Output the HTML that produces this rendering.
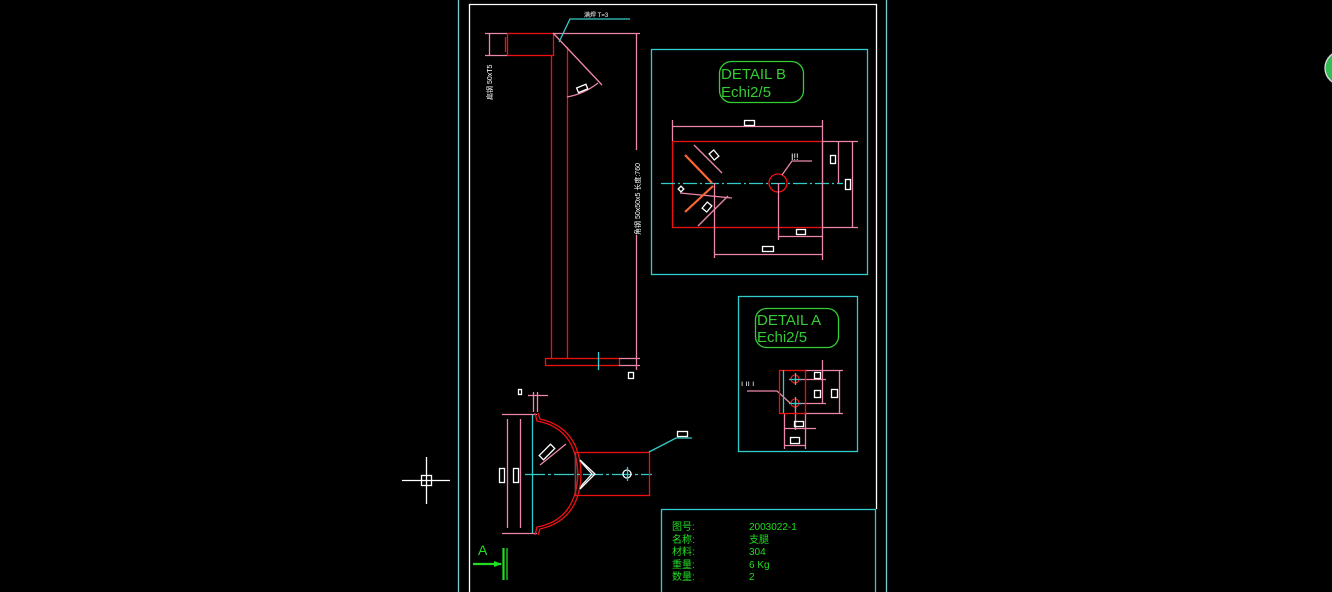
<!DOCTYPE html>
<html><head><meta charset="utf-8"><style>
html,body{margin:0;padding:0;background:#000;width:1332px;height:592px;overflow:hidden}
svg{display:block}
svg line,svg rect,svg polyline,svg path,svg circle,svg polygon{stroke-width:1.3}
svg .w2{stroke-width:2.2}
svg .bg{stroke-width:0}
text{font-family:"Liberation Sans","Noto Sans CJK SC",sans-serif;stroke:none}
</style></head><body>
<svg width="1332" height="592" viewBox="0 0 1332 592" xmlns="http://www.w3.org/2000/svg">
<rect class="bg" width="1332" height="592" fill="#000"/>
<!-- frames -->
<line x1="458.5" y1="0" x2="458.5" y2="592" stroke="#7cc"/>
<line x1="886.5" y1="0" x2="886.5" y2="592" stroke="#7cc"/>
<polyline points="469.5,592 469.5,4.5 876.5,4.5 876.5,509" fill="none" stroke="#fff"/>
<rect x="661.5" y="509.5" width="214" height="90" fill="none" stroke="#3cc"/>
<!-- crosshair -->
<g stroke="#fff" fill="none"><line x1="402" y1="480.5" x2="450" y2="480.5"/><line x1="426.5" y1="457" x2="426.5" y2="504"/><rect x="421.5" y="475.5" width="10" height="10"/></g>
<!-- right green circle -->
<circle cx="1342" cy="68" r="17" fill="#3b5" stroke="#ddd"/>

<!-- top part -->
<g fill="none">
<rect x="507.5" y="33.5" width="46" height="22" stroke="#e11"/>
<line x1="485" y1="33.5" x2="507" y2="33.5" stroke="#e8a"/>
<line x1="485" y1="55.5" x2="507" y2="55.5" stroke="#e8a"/>
<line x1="489.5" y1="33" x2="489.5" y2="55" stroke="#e8a"/>
<line x1="505.5" y1="37" x2="505.5" y2="52" stroke="#e11"/>
<line x1="551.5" y1="55" x2="551.5" y2="358" stroke="#e11"/>
<line x1="567.5" y1="47" x2="567.5" y2="358" stroke="#e11"/>
<rect x="545.5" y="358.5" width="74" height="7" stroke="#e11"/>
<line x1="553" y1="33.5" x2="640" y2="33.5" stroke="#e8a"/>
<line x1="619" y1="358.5" x2="640" y2="358.5" stroke="#e8a"/>
<line x1="619" y1="365.5" x2="640" y2="365.5" stroke="#e8a"/>
<line x1="636.5" y1="33" x2="636.5" y2="150" stroke="#e8a"/>
<line x1="636.5" y1="235" x2="636.5" y2="370" stroke="#e8a"/>
<line x1="553" y1="33" x2="602" y2="85" stroke="#e8a"/>
<path d="M567,97 Q584,94 598,83" stroke="#e8a"/>
<rect x="577" y="86" width="10" height="5" stroke="#fff" transform="rotate(-22 582 88)"/>
<polyline points="559,42 570,19 630,19" stroke="#3cc"/>
<line x1="598.5" y1="352" x2="598.5" y2="370" stroke="#3cc"/>
<rect x="628.5" y="372.5" width="5" height="6" stroke="#fff"/>
</g>
<text x="584" y="17" fill="#fff" font-size="6">满焊 T=3</text>
<text transform="translate(640,235) rotate(-90)" fill="#fff" font-size="7">角钢 50x50x5 长度:760</text>
<text transform="translate(492,100) rotate(-90)" fill="#fff" font-size="7">扁钢 50xT5</text>

<!-- DETAIL B -->
<g fill="none">
<rect x="651.5" y="49.5" width="216" height="225" stroke="#3cc"/>
<rect x="719.5" y="61.5" width="84" height="41" rx="12" stroke="#3c3"/>
<rect x="672.5" y="141.5" width="150" height="86" stroke="#e11"/>
<line x1="661" y1="183.5" x2="843" y2="183.5" stroke="#3cc" stroke-dasharray="14,3,2,3"/>
<circle cx="778" cy="183" r="9" stroke="#e11"/>
<line x1="778.5" y1="183" x2="778.5" y2="240" stroke="#e8a"/>
<g stroke="#e8a">
<line x1="672.5" y1="120" x2="672.5" y2="141"/><line x1="822.5" y1="120" x2="822.5" y2="260"/>
<line x1="672" y1="126.5" x2="822" y2="126.5"/>
<line x1="822" y1="141.5" x2="858" y2="141.5"/><line x1="822" y1="227.5" x2="858" y2="227.5"/>
<line x1="838.5" y1="141" x2="838.5" y2="183"/><line x1="852.5" y1="141" x2="852.5" y2="227"/>
<line x1="778" y1="236.5" x2="822" y2="236.5"/><line x1="714" y1="254.5" x2="822" y2="254.5"/>
<line x1="714.5" y1="183" x2="714.5" y2="258"/>
<polyline points="812,161 792,161 782,175"/>
<line x1="694" y1="145" x2="722" y2="173"/>
<line x1="680" y1="193" x2="732" y2="198"/>
<line x1="698" y1="226" x2="728" y2="196"/>
</g>
<g stroke="#f63"><line class="w2" x1="685" y1="155" x2="712" y2="183"/><line class="w2" x1="685" y1="212" x2="713" y2="186"/></g>
<g stroke="#fff"><rect x="744.5" y="120.5" width="10" height="5"/><rect x="830.5" y="155.5" width="5" height="8"/><rect x="845.5" y="179.5" width="5" height="10"/><rect x="796.5" y="229.5" width="9" height="5"/><rect x="762.5" y="246.5" width="11" height="5"/>
<rect x="711" y="151" width="6" height="8" transform="rotate(-40 714 155)"/><rect x="704" y="203" width="6" height="8" transform="rotate(40 707 207)"/><rect x="679" y="187" width="4" height="4" transform="rotate(45 681 189)"/></g>
</g>
<text x="721" y="79" fill="#3c3" font-size="15" font-family="Liberation Mono,monospace">DETAIL B</text>
<text x="721" y="97" fill="#3c3" font-size="15" font-family="Liberation Mono,monospace">Echi2/5</text>
<text x="791" y="160" fill="#fff" font-size="9">I!!</text>

<!-- DETAIL A -->
<g fill="none">
<rect x="738.5" y="296.5" width="119" height="155" stroke="#3cc"/>
<rect x="755.5" y="308.5" width="83" height="39" rx="11" stroke="#3c3"/>
<g stroke="#e8a">
<line x1="805" y1="370.5" x2="843" y2="370.5"/><line x1="800" y1="379.5" x2="826" y2="379.5"/><line x1="800" y1="403.5" x2="826" y2="403.5"/><line x1="805" y1="413.5" x2="843" y2="413.5"/>
<line x1="822.5" y1="360" x2="822.5" y2="404"/><line x1="839.5" y1="371" x2="839.5" y2="413"/>
<line x1="784.5" y1="413" x2="784.5" y2="449"/><line x1="805.5" y1="413" x2="805.5" y2="449"/>
<line x1="784" y1="428.5" x2="816" y2="428.5"/><line x1="784" y1="445.5" x2="805" y2="445.5"/>
<line x1="795.5" y1="403" x2="795.5" y2="430"/>
<polyline points="747,391 777,391 790,403"/>
</g>
<rect x="779.5" y="370.5" width="26" height="43" stroke="#e11"/>
<line x1="783.5" y1="370" x2="783.5" y2="413" stroke="#3cc"/>
<circle cx="795" cy="379" r="4" stroke="#e11"/><circle cx="795" cy="403" r="4" stroke="#e11"/>
<g stroke="#3cc"><line x1="789" y1="379.5" x2="801" y2="379.5"/><line x1="795.5" y1="373" x2="795.5" y2="385"/><line x1="789" y1="403.5" x2="801" y2="403.5"/><line x1="795.5" y1="397" x2="795.5" y2="409"/></g>
<g stroke="#fff"><rect x="814.5" y="372.5" width="6" height="6"/><rect x="814.5" y="390.5" width="6" height="7"/><rect x="831.5" y="389.5" width="6" height="8"/><rect x="794.5" y="421.5" width="9" height="5"/><rect x="790.5" y="437.5" width="9" height="6"/></g>
</g>
<text x="757" y="325" fill="#3c3" font-size="15" font-family="Liberation Mono,monospace">DETAIL A</text>
<text x="757" y="342" fill="#3c3" font-size="15" font-family="Liberation Mono,monospace">Echi2/5</text>
<text x="741" y="386" fill="#fff" font-size="8">ı ıı ı</text>

<!-- bottom part -->
<g fill="none">
<g stroke="#e8a"><line x1="528" y1="395.5" x2="548" y2="395.5"/><line x1="533.5" y1="392" x2="533.5" y2="412"/><line x1="537.5" y1="392" x2="537.5" y2="412"/>
<line x1="502" y1="414.5" x2="537" y2="414.5"/><line x1="502" y1="533.5" x2="537" y2="533.5"/>
<line x1="507.5" y1="419" x2="507.5" y2="528"/><line x1="520.5" y1="419" x2="520.5" y2="528"/>
<line x1="540" y1="465" x2="566" y2="444"/></g>
<path d="M535,413 L537,421 Q576,428 578,474 Q576,520 537,527 L535,535" stroke="#e11"/>
<path d="M538,413 L540,419 Q580,428 581,474 Q580,520 540,529 L538,535" stroke="#e11"/>
<line x1="532.5" y1="415" x2="532.5" y2="533" stroke="#3cc"/>
<line x1="525" y1="474.5" x2="652" y2="474.5" stroke="#3cc" stroke-dasharray="20,3,3,3"/>
<line x1="575.5" y1="452" x2="575.5" y2="495" stroke="#3cc"/>
<rect x="575.5" y="452.5" width="74" height="43" stroke="#e11"/>
<polygon points="580,460 595,474 580,489 582,485 592,474 582,463" stroke="#fff"/>
<circle cx="627" cy="474" r="4" stroke="#fff"/><line x1="627.5" y1="467" x2="627.5" y2="481" stroke="#3cc"/>
<polyline points="649,452 676,438 692,438" stroke="#3cc"/>
<g stroke="#fff"><rect x="677.5" y="431.5" width="10" height="5"/><rect x="518.5" y="389.5" width="3" height="5"/><rect x="499.5" y="468.5" width="5" height="14"/><rect x="513.5" y="468.5" width="5" height="14"/><rect x="539" y="449" width="16" height="6" transform="rotate(-45 547 452)"/></g>
<g stroke="#2d2"><line class="w2" x1="473" y1="564" x2="501" y2="564"/><line class="w2" x1="503.5" y1="548" x2="503.5" y2="580"/><line x1="507" y1="548" x2="507" y2="580"/></g>
<polygon class="bg" points="494,561 502,564 494,567" fill="#2d2"/>
</g>
<text x="478" y="555" fill="#2d2" font-size="14">A</text>

<!-- title block -->
<g fill="#2d2" font-size="10">
<text x="672" y="530">图号:</text><text x="672" y="543">名称:</text><text x="672" y="555">材料:</text><text x="672" y="568">重量:</text><text x="672" y="580">数量:</text>
<text x="749" y="530">2003022-1</text><text x="749" y="543">支腿</text><text x="749" y="555">304</text><text x="749" y="568">6 Kg</text><text x="749" y="580">2</text>
</g>
</svg>
</body></html>
